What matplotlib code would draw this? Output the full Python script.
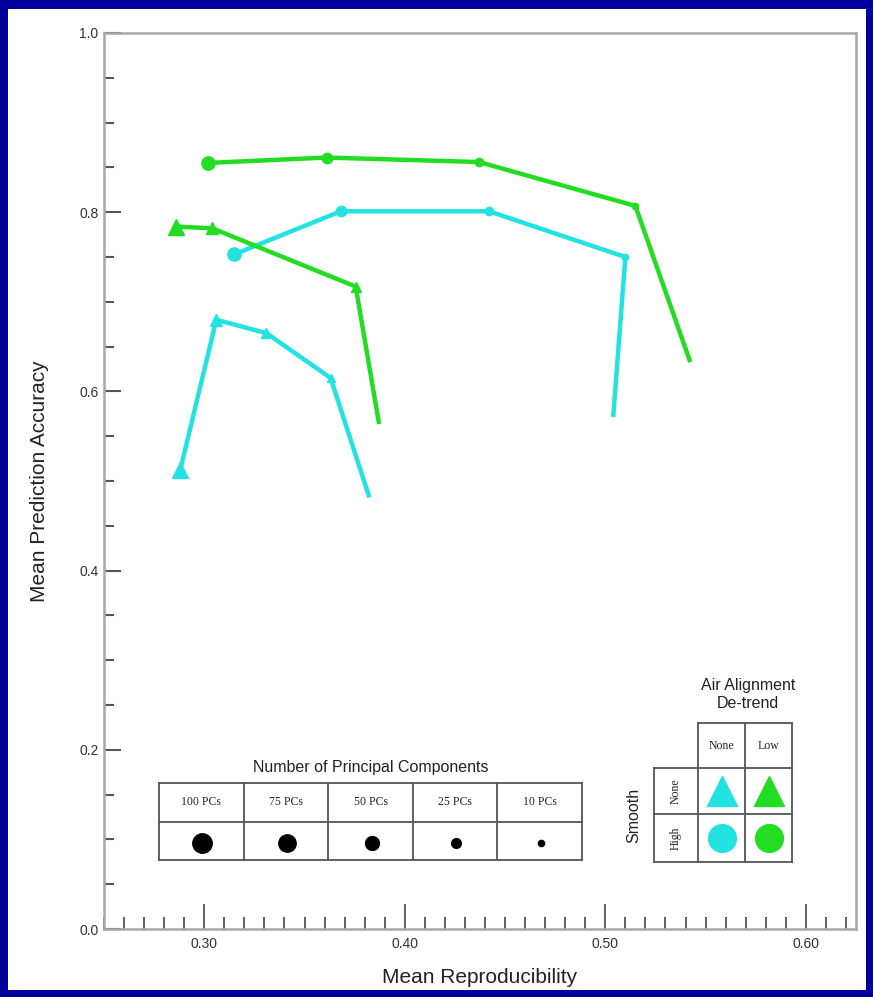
import numpy as np
import matplotlib
matplotlib.use("Agg")
import matplotlib.pyplot as plt
from matplotlib.ticker import MultipleLocator, FormatStrFormatter
from matplotlib.patches import Rectangle

plt.rcParams['font.family'] = ['Liberation Sans', 'DejaVu Sans']

# number of principal components, one point per level along each curve
pc_labels = ['100 PCs', '75 PCs', '50 PCs', '25 PCs', '10 PCs']

# air alignment de-trend / smoothing combinations
x_none_high = [0.315, 0.368, 0.442, 0.510, 0.504]
y_none_high = [0.753, 0.801, 0.801, 0.750, 0.574]

x_low_high = [0.302, 0.361, 0.437, 0.515, 0.542]
y_low_high = [0.855, 0.861, 0.856, 0.807, 0.635]

x_none_none = [0.288, 0.306, 0.331, 0.363, 0.382]
y_none_none = [0.512, 0.680, 0.665, 0.615, 0.484]

x_low_none = [0.286, 0.304, 0.3755, 0.387]
y_low_none = [0.784, 0.782, 0.717, 0.566]

detrend_labels = ['None', 'Low']
smooth_labels = ['None', 'High']

CYAN = '#22E2E2'
GREEN = '#22DD22'
NAVY = '#00009A'
psize = [9.5, 7.5, 6.0, 4.5, 1.5]

W, H = 873, 997
fig = plt.figure(figsize=(W / 100, H / 100), dpi=100, facecolor=NAVY)
fig.patches.append(Rectangle((8 / W, 1 - 990 / H), 858 / W, 981 / H,
                             transform=fig.transFigure, facecolor='white',
                             edgecolor='none', zorder=-10))

ax = fig.add_axes([104 / W, 1 - 929 / H, 752 / W, 896 / H], zorder=2)
ax.patch.set_alpha(0)
ax.set_xlim(0.25, 0.625)
ax.set_ylim(0.0, 1.0)

series = [
    (x_low_high, y_low_high, GREEN, 'o'),
    (x_none_high, y_none_high, CYAN, 'o'),
    (x_low_none, y_low_none, GREEN, '^'),
    (x_none_none, y_none_none, CYAN, '^'),
]
for xs, ys, col, mk in series:
    ax.plot(xs, ys, color=col, lw=3.2, solid_joinstyle='miter', zorder=3)
    for i, (xv, yv) in enumerate(zip(xs, ys)):
        if i < len(xs) - 1:
            ax.plot(xv, yv, marker=mk, ms=psize[i] * (1.15 if mk == '^' else 1),
                    color=col, zorder=4)

for s in ax.spines.values():
    s.set_color('#A8A8A8')
    s.set_linewidth(1.8)

ax.xaxis.set_major_locator(MultipleLocator(0.1))
ax.xaxis.set_minor_locator(MultipleLocator(0.01))
ax.yaxis.set_major_locator(MultipleLocator(0.2))
ax.yaxis.set_minor_locator(MultipleLocator(0.05))
ax.xaxis.set_major_formatter(FormatStrFormatter('%.2f'))
ax.yaxis.set_major_formatter(FormatStrFormatter('%.1f'))
ax.tick_params(axis='x', which='major', direction='in', length=18, width=1.3,
               color='#555555', labelsize=10, labelcolor='#333333', pad=6)
ax.tick_params(axis='x', which='minor', direction='in', length=9, width=1.3,
               color='#555555')
ax.tick_params(axis='y', which='major', direction='in', length=12, width=1.5,
               color='#555555', labelsize=10, labelcolor='#333333', pad=4)
ax.tick_params(axis='y', which='minor', direction='in', length=7, width=1.5,
               color='#555555')
ax.set_xlabel('Mean Reproducibility', fontsize=15, color='#222222', labelpad=12)
ax.set_ylabel('Mean Prediction Accuracy', fontsize=15, color='#222222', labelpad=22)

# overlay in pixel coordinates for the two key tables
ov = fig.add_axes([0, 0, 1, 1], zorder=10)
ov.set_xlim(0, W)
ov.set_ylim(H, 0)
ov.axis('off')
ov.patch.set_alpha(0)

lc = '#555555'
lw = 1.3

# principal components table
tx = np.linspace(159, 582, len(pc_labels) + 1)
ty = [783, 822, 860]
for yy in ty:
    ov.plot([tx[0], tx[-1]], [yy, yy], color=lc, lw=lw)
for xx in tx:
    ov.plot([xx, xx], [ty[0], ty[-1]], color=lc, lw=lw)
ov.text((tx[0] + tx[-1]) / 2, 767, 'Number of Principal Components',
        ha='center', va='center', fontsize=11.5, color='#222222')
leg_sizes = [14, 12.5, 10, 7, 4.5]
for i, lab in enumerate(pc_labels):
    cx = (tx[i] + tx[i + 1]) / 2
    ov.text(cx, 802, lab, ha='center', va='center', fontsize=8.5,
            family='Liberation Serif', color='#222222')
    ov.plot(cx + 1, 843, marker='o', ms=leg_sizes[i], color='black')

# de-trend / smooth table
cols = [654, 698, 745, 792]
rows = [723, 768, 814, 862]
for xx in cols[1:]:
    ov.plot([xx, xx], [rows[0], rows[-1]], color=lc, lw=lw)
ov.plot([cols[0], cols[0]], [rows[1], rows[-1]], color=lc, lw=lw)
ov.plot([cols[1], cols[-1]], [rows[0], rows[0]], color=lc, lw=lw)
for yy in rows[1:]:
    ov.plot([cols[0], cols[-1]], [yy, yy], color=lc, lw=lw)
ov.text(748, 685, 'Air Alignment', ha='center', va='center', fontsize=11.5,
        color='#222222')
ov.text(748, 703, 'De-trend', ha='center', va='center', fontsize=11.5,
        color='#222222')
ov.text(634, 815, 'Smooth', ha='center', va='center', fontsize=11.5,
        rotation=90, color='#222222')
for j, lab in enumerate(detrend_labels):
    ov.text((cols[j + 1] + cols[j + 2]) / 2, 746, lab, ha='center', va='center',
            fontsize=8.5, family='Liberation Serif', color='#222222')
for i, lab in enumerate(smooth_labels):
    ov.text(676, (rows[i + 1] + rows[i + 2]) / 2, lab, ha='center', va='center',
            fontsize=8.5, family='Liberation Serif', rotation=90, color='#222222')
for i, mk in enumerate(['^', 'o']):
    for j, col in enumerate([CYAN, GREEN]):
        ov.plot((cols[j + 1] + cols[j + 2]) / 2, (rows[i + 1] + rows[i + 2]) / 2,
                marker=mk, ms=21 if mk == '^' else 20, color=col)

fig.savefig('out.png', dpi=100, facecolor=NAVY)
